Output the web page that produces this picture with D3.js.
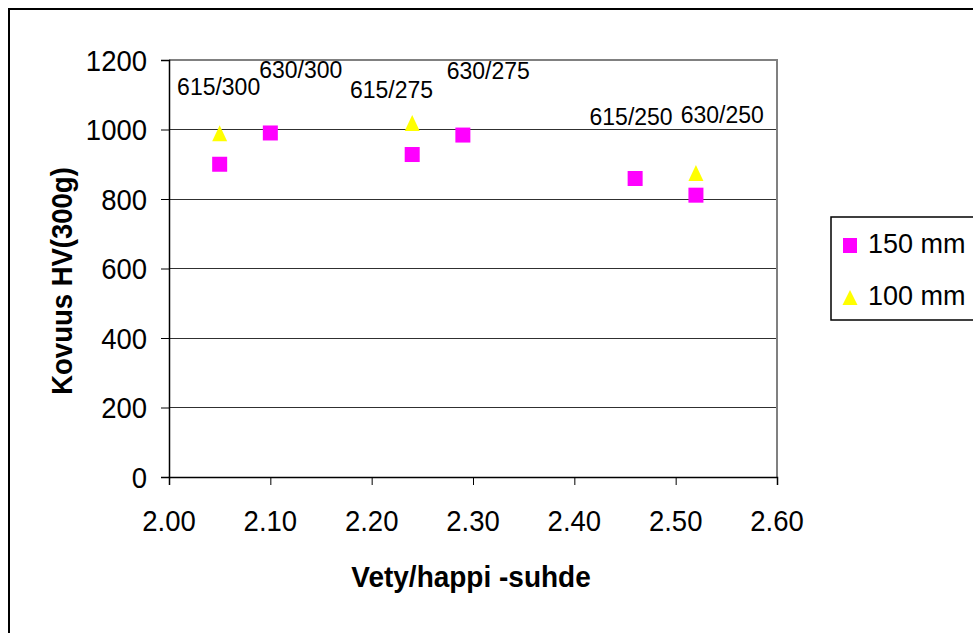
<!DOCTYPE html>
<html>
<head>
<meta charset="utf-8">
<script src="https://cdn.jsdelivr.net/npm/d3@7"></script>
<style>
  html, body { margin: 0; padding: 0; background: #fff; }
  svg { display: block; }
  text { font-family: "Liberation Sans", Arial, sans-serif; fill: #000; }
</style>
</head>
<body>
<svg id="chart" width="973" height="633"></svg>
<script>
// ---- data ----
const series150X = [2.05, 2.10, 2.24, 2.29, 2.46, 2.52];
const series150Y = [900, 990, 928, 984, 859, 811];
const series100X = [2.05, 2.24, 2.52];
const series100Y = [989, 1019, 875];
const pointLabels = ["615/300", "630/300", "615/275", "630/275", "615/250", "630/250"];
const labelX = [2.049, 2.130, 2.2196, 2.315, 2.456, 2.546];
const labelY = [1099, 1148, 1090, 1145, 1013, 1019];
const xTicks = [2.0, 2.1, 2.2, 2.3, 2.4, 2.5, 2.6];
const yTicks = [0, 200, 400, 600, 800, 1000, 1200];
const legendNames = ["150 mm", "100 mm"];
const xTitle = "Vety/happi -suhde";
const yTitle = "Kovuus HV(300g)";

const svg = d3.select("#chart");
const x = d3.scaleLinear().domain([2.0, 2.6]).range([169, 777]);
const y = d3.scaleLinear().domain([0, 1200]).range([477, 60]);

// outer frame (extends past the picture on right/bottom)
svg.append("rect").attr("x", 9).attr("y", 9).attr("width", 1000).attr("height", 700)
  .attr("fill", "none").attr("stroke", "#000").attr("stroke-width", 2);

// gridlines
svg.append("g").selectAll("line").data(yTicks.filter(d => d > 0 && d < 1200)).join("line")
  .attr("x1", x(2.0)).attr("x2", x(2.6)).attr("y1", d => y(d)).attr("y2", d => y(d))
  .attr("stroke", "#303030").attr("stroke-width", 1).attr("shape-rendering", "crispEdges");

// plot border top/right
svg.append("path")
  .attr("d", `M${x(2.0)},${y(1200)}H${x(2.6)}V${y(0)}`)
  .attr("fill", "none").attr("stroke", "#808080").attr("stroke-width", 2);

// axes (lines + ticks from d3 axes; labels drawn stretched below)
const yAxis = d3.axisLeft(y).tickValues(yTicks).tickSize(8).tickFormat("");
const gy = svg.append("g").attr("transform", `translate(${x(2.0)},0)`).call(yAxis);
const xAxis = d3.axisBottom(x).tickValues(xTicks).tickSize(8).tickFormat("");
const gx = svg.append("g").attr("transform", `translate(0,${y(0)})`).call(xAxis);
[gx, gy].forEach(g => {
  g.select(".domain").attr("stroke", "#000").attr("stroke-width", 1.5);
  g.selectAll(".tick line").attr("stroke", "#000").attr("stroke-width", 1);
});

const tickFs = 27.5, stretch = 1.1;
const digitH = 0.716 * tickFs * stretch;
svg.append("g").selectAll("text").data(yTicks).join("text")
  .attr("transform", d => `translate(147,${y(d) + digitH / 2}) scale(1,${stretch})`)
  .attr("text-anchor", "end").attr("font-size", tickFs).text(d3.format("d"));
svg.append("g").selectAll("text").data(xTicks).join("text")
  .attr("transform", d => `translate(${x(d)},${509 + digitH}) scale(1,${stretch})`)
  .attr("text-anchor", "middle").attr("font-size", tickFs).text(d3.format(".2f"));

// axis titles
svg.append("text").attr("transform", "translate(471,587) scale(1,1.05)").attr("text-anchor", "middle")
  .attr("font-size", 28).attr("font-weight", "bold").text(xTitle);
svg.append("text").attr("transform", "translate(72,281) rotate(-90) scale(1,1.05)").attr("text-anchor", "middle")
  .attr("font-size", 27.5).attr("font-weight", "bold").text(yTitle);

// markers
const sq = 15;
svg.append("g").selectAll("rect").data(series150X.map((d, i) => [d, series150Y[i]])).join("rect")
  .attr("x", d => x(d[0]) - sq / 2).attr("y", d => y(d[1]) - sq / 2)
  .attr("width", sq).attr("height", sq).attr("fill", "#FF00FF");

const tri = (cx, cy, w, h) => `M${cx},${cy - h / 2}L${cx + w / 2},${cy + h / 2}L${cx - w / 2},${cy + h / 2}Z`;
svg.append("g").selectAll("path").data(series100X.map((d, i) => [d, series100Y[i]])).join("path")
  .attr("d", d => tri(x(d[0]), y(d[1]), 15, 16)).attr("fill", "#FFFF00");

// data labels
svg.append("g").selectAll("text").data(pointLabels).join("text")
  .attr("transform", (d, i) => `translate(${x(labelX[i])},${y(labelY[i])}) scale(1,1.07)`)
  .attr("text-anchor", "middle").attr("font-size", 23).text(d => d);

// legend
const lg = svg.append("g");
lg.append("rect").attr("x", 831).attr("y", 217).attr("width", 200).attr("height", 103)
  .attr("fill", "#fff").attr("stroke", "#000").attr("stroke-width", 1.5);
lg.append("rect").attr("x", 843).attr("y", 238).attr("width", 14).attr("height", 15).attr("fill", "#FF00FF");
lg.append("path").attr("d", tri(850, 297.5, 15, 15)).attr("fill", "#FFFF00");
lg.selectAll("text.lt").data(legendNames).join("text").attr("class", "lt")
  .attr("x", 868).attr("y", (d, i) => 253 + i * 52).attr("font-size", 27).text(d => d);
</script>
</body>
</html>
